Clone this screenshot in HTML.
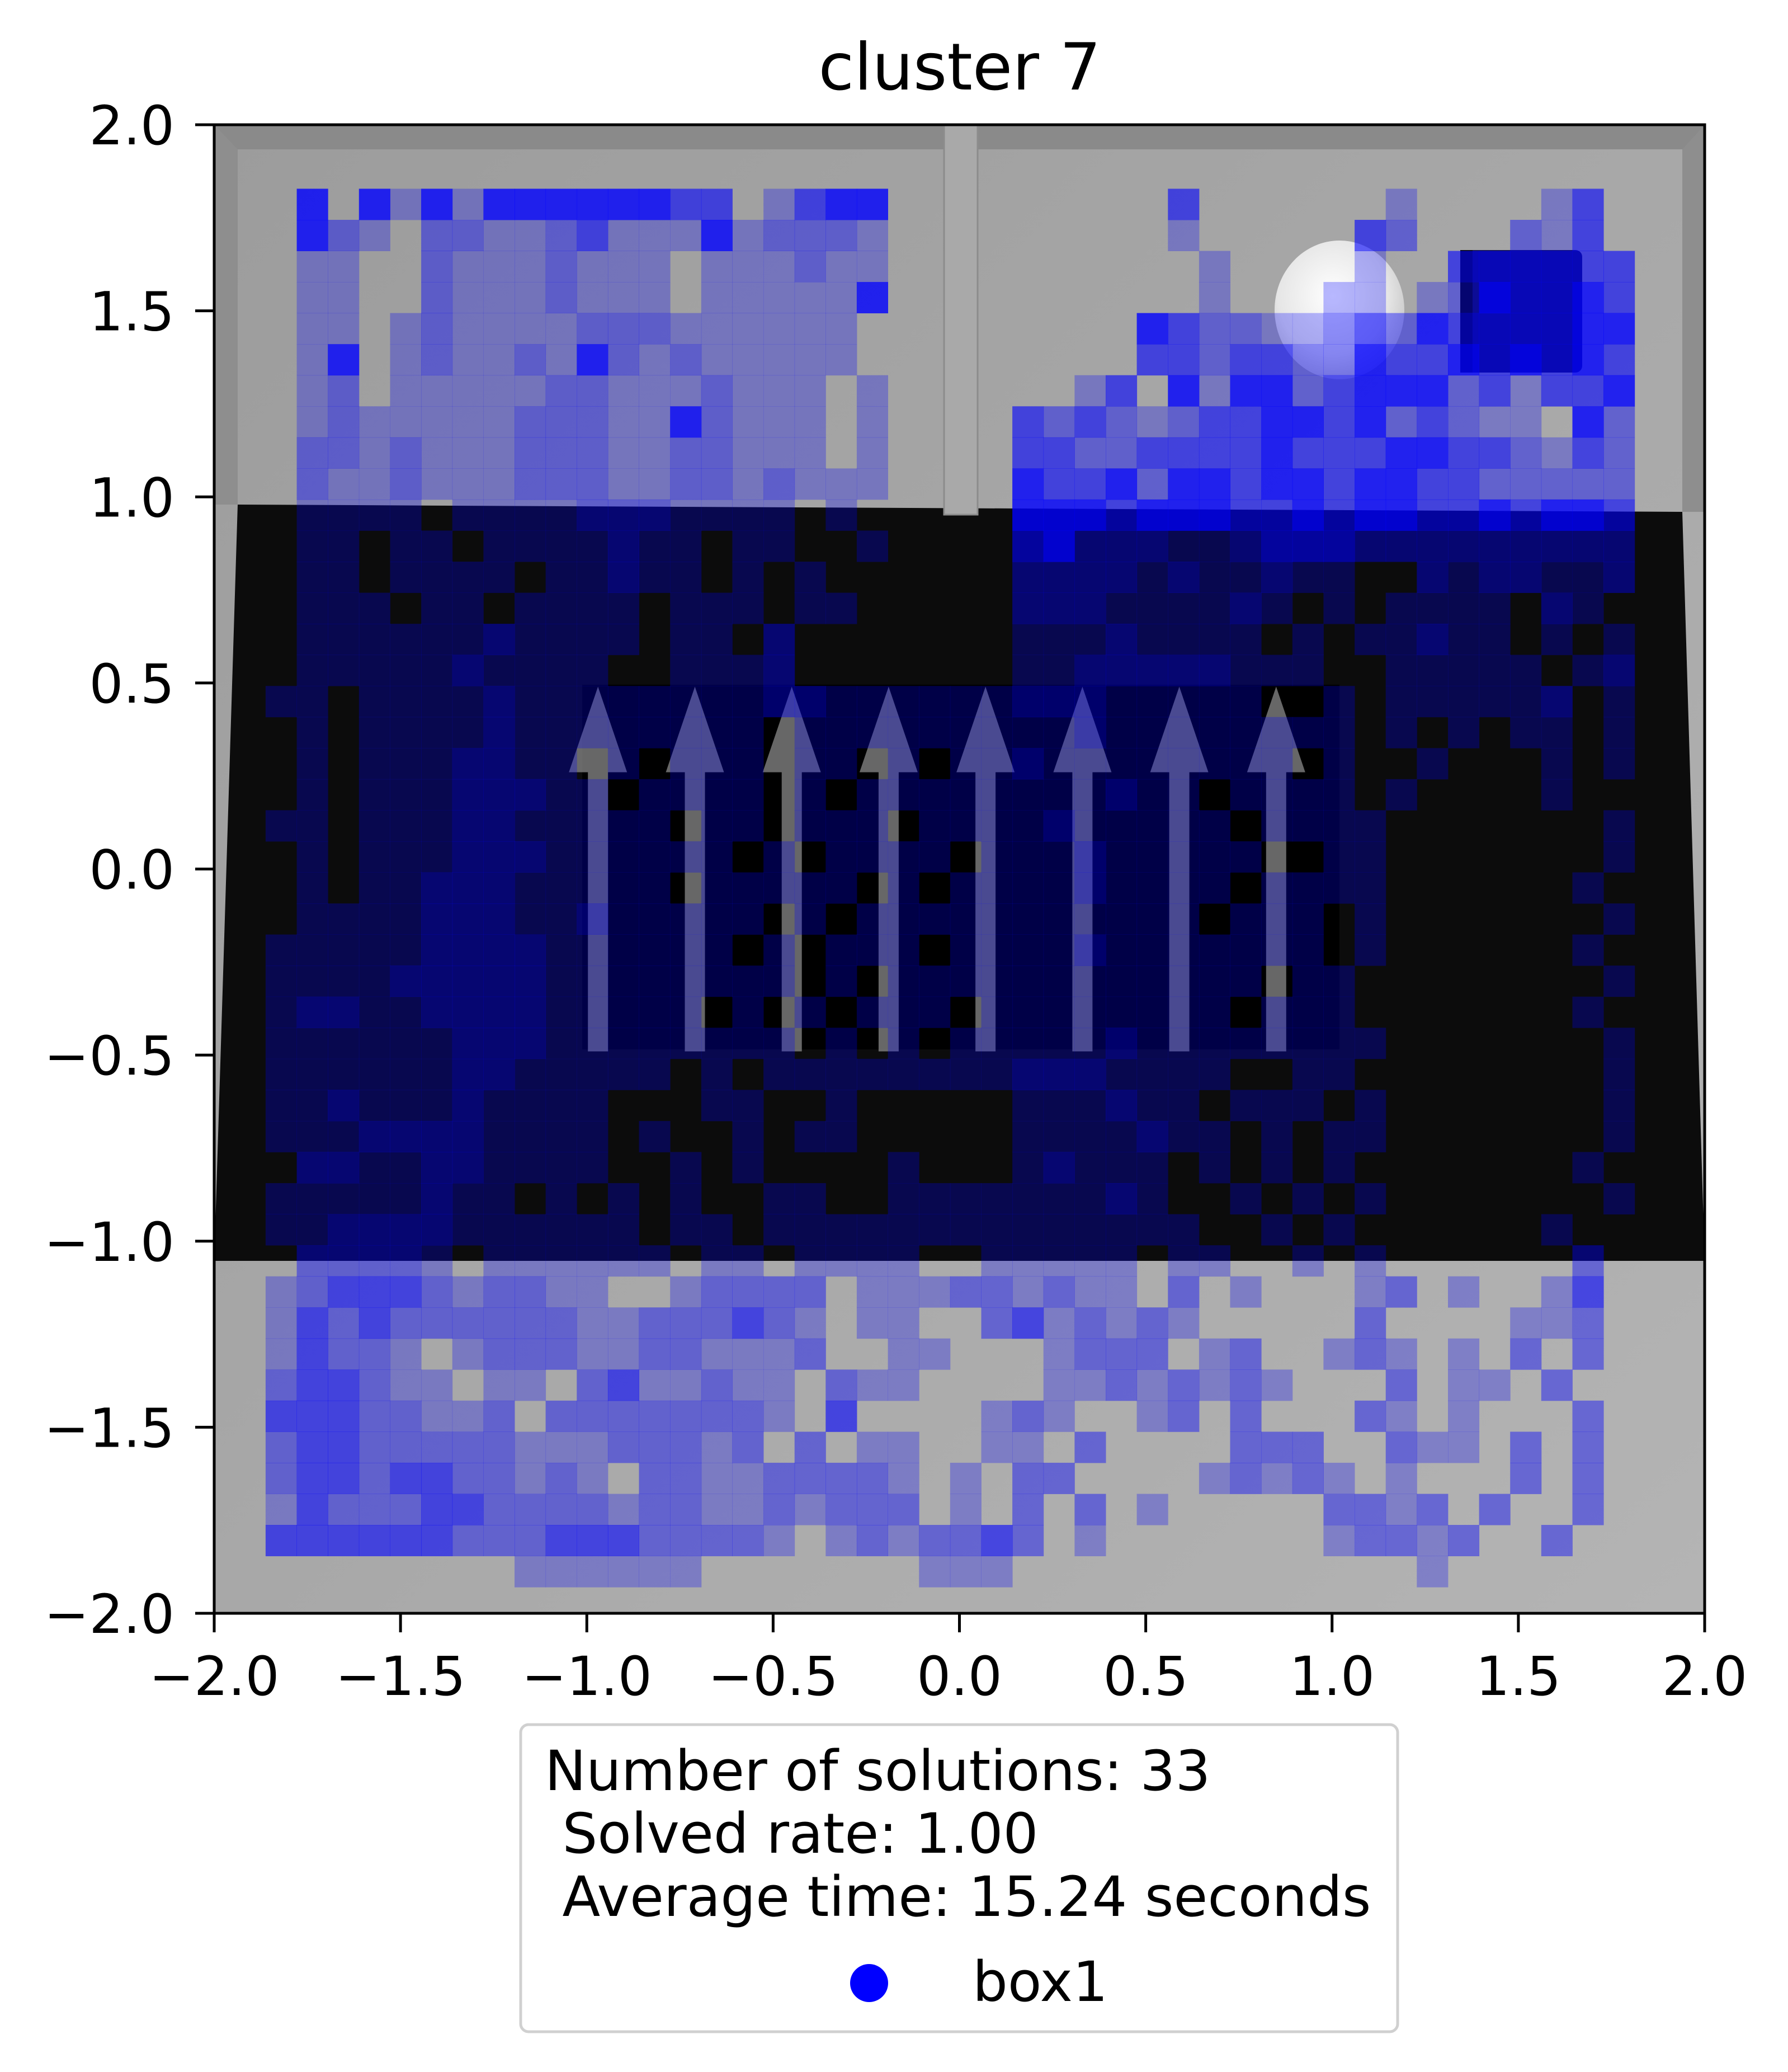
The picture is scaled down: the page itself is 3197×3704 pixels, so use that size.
<!DOCTYPE html>
<html><head><meta charset="utf-8"><title>cluster 7</title>
<style>html,body{margin:0;padding:0;background:#fff;}svg{display:block;font-family:"DejaVu Sans","Liberation Sans",sans-serif;}</style>
</head><body>
<svg id="chart" xmlns="http://www.w3.org/2000/svg" width="3197" height="3704" viewBox="0 0 3197 3704">
<defs>
<linearGradient id="bgGrad" x1="0" y1="0" x2="1" y2="1"><stop offset="0" stop-color="#9c9c9c"/><stop offset="1" stop-color="#b4b4b4"/></linearGradient>
<radialGradient id="ballGrad" cx="0.45" cy="0.4" r="0.6"><stop offset="0" stop-color="#ffffff"/><stop offset="0.7" stop-color="#e6e6e6"/><stop offset="1" stop-color="#c8c8c8"/></radialGradient>
<clipPath id="plotClip"><rect x="383" y="223" width="2665" height="2661"/></clipPath>
</defs>
<text x="1716" y="160" font-size="116" text-anchor="middle" fill="#000">cluster 7</text>
<g id="plot" clip-path="url(#plotClip)">
  <rect x="383" y="223" width="2665" height="2661" fill="url(#bgGrad)"/>
  <rect x="383" y="223" width="2665" height="44" fill="#8a8a8a"/>
  <polygon points="383,223 425,267 425,902 383,902" fill="#8e8e8e"/>
  <polygon points="3048,223 3008,267 3008,915 3048,915" fill="#8e8e8e"/>
  <polygon points="425,902 3008,915 3048,2254 383,2254" fill="#0c0c0c"/>
  <rect x="1041" y="1224" width="1354" height="652" fill="#000"/>
  <g id="arrows"></g>
  <rect x="1688" y="223" width="60" height="697" fill="#a9a9a9" stroke="#8c8c8c" stroke-width="3"/>
  <ellipse cx="2395" cy="554" rx="116" ry="124" fill="url(#ballGrad)"/>
  <rect x="2611" y="447" width="218" height="219" rx="12" fill="#16164a"/>
  <rect x="2611" y="447" width="22" height="219" fill="#0a0a0a"/>
  <g id="cells"></g>
</g>
<rect x="383" y="223" width="2665" height="2661" fill="none" stroke="#000" stroke-width="5"/>
<g id="xaxis"></g>
<g id="yaxis"></g>
<g>
  <rect x="931" y="3083" width="1568" height="549" rx="14" fill="#fff" stroke="#d0d0d0" stroke-width="5"/>
  <text font-size="99" fill="#000" xml:space="preserve"><tspan x="974" y="3200">Number of solutions: 33</tspan><tspan x="974" y="3312"> Solved rate: 1.00</tspan><tspan x="974" y="3425"> Average time: 15.24 seconds</tspan></text>
  <circle cx="1554" cy="3545" r="34" fill="#0000ff"/>
  <text x="1739" y="3577" font-size="99" fill="#000">box1</text>
</g>
</svg>
<script>
const xTicks = [-2.0, -1.5, -1.0, -0.5, 0.0, 0.5, 1.0, 1.5, 2.0];
const yTicks = [-2.0, -1.5, -1.0, -0.5, 0.0, 0.5, 1.0, 1.5, 2.0];
const arrowX = [-0.97, -0.71, -0.45, -0.19, 0.07, 0.33, 0.59, 0.85];
const gridX0 = -1.862;
const gridY0 = 1.828;
const cellSize = 0.0835;
const levelAlpha = [0, 0.28, 0.42, 0.6, 0.8];
const gridRows = [
".4.414144444433.1344.........3......1....13.",
".421.221123111412221.........1.....32...213.",
".11..21112111.111211..........1....1..333333",
".11..21112111.111114..........1...11.1243343",
".11.121111222111111.........4322112324333344",
".14.121121421211111.........3323322433434343",
".12.11111221112111.1......13.414423444231334",
".12111112221142111.1....32321233443423211.42",
".22121112221122111.1....33223333433344332132",
".2112111222112212111....43342443443443322222",
".1111.11112221111.1.....44434443343443343443",
".11.11.1111211.11..1....34222112333222222222",
".11.1111.11211.1.1......22221211211..2122112",
".111.11.1111.111.11.....222111121.1.1111.21.",
".11111121111.11.2.......11121111.1.11211.1.1",
".1111121111..1112.......1122222111..11111.12",
"11.11112111111112211111122211111..1.111112.1",
".1.1111211111111.111111111211111111.1.1.11.1.",
".1.1112211.1.111.11.1.11211111111.1..1...1.1",
".1.11122211.1111.1.111111112 11.1111.1....1.",
"11.1112211111.11.111.1111211111.1111.......1",
".1.111222111111.1.1111.111211111..11.......1",
".1.1122211111.11111.1.111121111.1111......1.",
".111122211211111.1.11111111111.111.1.......1",
"111112222111111.1.111.111121111111.1......1.",
"11112222211111111.1.111111111111.11........1",
"12211222211111.1.1.111.11111111.111.......1.",
"11111122211111111.1.1.11111211111111.......1",
"1111112211111.1.11111111 2221111..11........1",
"11211121111...11..1.....111211.111.1.......1",
"11122221111.1..1.11.....1111211.1.11.......1",
".2211221111..1.1....1...12111.1.1.1.......1.",
"11111211.1.1.1..11..111111121..1.1.1.......1",
"112222111111.11.11111111111111..1.1......1.",
".22221.111111.11.1111..11111.11..1.1......2.",
"12333212211..12222.1112212 11.2.1...12.1..13.",
"132322222211222321.11..2312121.....2....112.",
"13221.122211221112..11...1222.12..121.1.2.2.",
"233211.11.2311211.211....11212121...2.11.2..",
"33322112.22222221.3....121..12.2...21.1...2.",
"2332222211122212.2.11..11.2....222..211.2.2.",
"23323322121.221122221.1.22....12121.1...2.2.",
"132223322221221121222.1.2.2.1.....2212.2..2.",
"33333322233322221.1212232.1.......12212..2..",
"........111111.......111.............1......."
];
const NS = "http://www.w3.org/2000/svg";
function xScale(v){ return 383 + (v + 2) * 666.25; }
function yScale(v){ return 2884 - (v + 2) * 665.25; }
function normRow(s){ s = s.replace(/ /g, ''); while (s.length < 44) s += '.'; return s.slice(0, 44); }

const cellsG = document.getElementById('cells');
gridRows.forEach(function(raw, r){
  const row = normRow(raw);
  for (let c = 0; c < 44; c++) {
    const ch = row[c];
    if (ch === '.') continue;
    const lvl = parseInt(ch, 10);
    const x1 = xScale(gridX0 + c * cellSize), x2 = xScale(gridX0 + (c + 1) * cellSize);
    const y1 = yScale(gridY0 - r * cellSize), y2 = yScale(gridY0 - (r + 1) * cellSize);
    const rect = document.createElementNS(NS, 'rect');
    rect.setAttribute('x', x1.toFixed(1));
    rect.setAttribute('y', y1.toFixed(1));
    rect.setAttribute('width', (x2 - x1 + 0.5).toFixed(1));
    rect.setAttribute('height', (y2 - y1 + 0.5).toFixed(1));
    rect.setAttribute('fill', '#0000ff');
    rect.setAttribute('fill-opacity', levelAlpha[lvl]);
    
    
    cellsG.appendChild(rect);
  }
});

const arrowsG = document.getElementById('arrows');
arrowX.forEach(function(v){
  const cx = xScale(v), tip = yScale(0.49), base = yScale(0.26), bot = yScale(-0.49);
  const p = document.createElementNS(NS, 'polygon');
  p.setAttribute('points', [cx, tip, cx + 52, base, cx + 18, base, cx + 18, bot, cx - 18, bot, cx - 18, base, cx - 52, base].reduce(function(a, v2, i){ return a + (i % 2 ? ',' : ' ') + v2.toFixed(1); }, '').trim());
  p.setAttribute('fill', '#8a8a8a');
  p.setAttribute('fill-opacity', '0.75');
  
  
  arrowsG.appendChild(p);
});

function fmt(v){ const s = Math.abs(v).toFixed(1); return (v < 0 ? '\u2212' : '') + s; }
const xg = document.getElementById('xaxis');
xTicks.forEach(function(v){
  const x = xScale(v);
  const l = document.createElementNS(NS, 'line');
  l.setAttribute('x1', x); l.setAttribute('x2', x); l.setAttribute('y1', 2884); l.setAttribute('y2', 2918);
  l.setAttribute('stroke', '#000'); l.setAttribute('stroke-width', '5');
  
  
  xg.appendChild(l);
  const t = document.createElementNS(NS, 'text');
  t.setAttribute('x', x); t.setAttribute('y', 3030); t.setAttribute('font-size', '96'); t.setAttribute('text-anchor', 'middle');
  t.textContent = fmt(v);
  
  
  xg.appendChild(t);
});
const yg = document.getElementById('yaxis');
yTicks.forEach(function(v){
  const y = yScale(v);
  const l = document.createElementNS(NS, 'line');
  l.setAttribute('x1', 349); l.setAttribute('x2', 383); l.setAttribute('y1', y); l.setAttribute('y2', y);
  l.setAttribute('stroke', '#000'); l.setAttribute('stroke-width', '5');
  
  
  yg.appendChild(l);
  const t = document.createElementNS(NS, 'text');
  t.setAttribute('x', 312); t.setAttribute('y', y + 35); t.setAttribute('font-size', '96'); t.setAttribute('text-anchor', 'end');
  t.textContent = fmt(v);
  
  
  yg.appendChild(t);
});
</script>
</body></html>
